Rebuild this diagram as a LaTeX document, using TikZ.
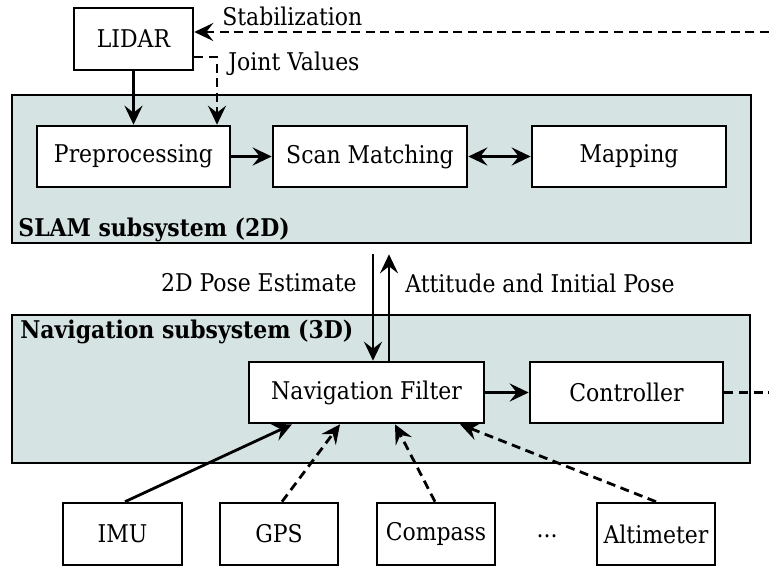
\documentclass[tikz,border=0pt]{standalone}
\usepackage{fontspec}
\setmainfont{DejaVu Serif Condensed}
\usepackage{tikz}
\usetikzlibrary{arrows.meta}
\definecolor{subsysfill}{RGB}{214,227,227}

\begin{document}
\begin{tikzpicture}[x=0.5pt,y=-0.5pt,line cap=butt,line join=miter,
    >={Stealth[length=9.5pt,width=9pt,inset=3.5pt]},
    block/.style={draw,fill=white,line width=1.3pt,inner sep=0pt,font=\fontsize{12.2}{14}\selectfont},
    subsys/.style={draw,fill=subsysfill,line width=1.3pt,inner sep=0pt},
    subsyslabel/.style={font=\fontsize{12.2}{14}\selectfont\bfseries,inner sep=0pt,anchor=base west},
    flowlabel/.style={font=\fontsize{12.2}{14}\selectfont,inner sep=0pt},
    link/.style={line width=1.4pt},
    dashlink/.style={line width=1.4pt,dash pattern=on 4.5pt off 2.8pt}]
\useasboundingbox (0,0) rectangle (769,568);
% subsystems
\node[subsys,minimum width=369.5pt,minimum height=74pt] (slam) at (381.5,169) {};
\node[subsys,minimum width=369pt,minimum height=74pt] (nav) at (381,389) {};
\node[subsyslabel] (slamlbl) at (18,236) {SLAM subsystem (2D)};
\node[subsyslabel] (navlbl) at (20,338) {Navigation subsystem (3D)};
% blocks
\node[block,minimum width=59.5pt,minimum height=31pt] (lidar) at (133.5,39) {LIDAR};
\node[block,minimum width=96.5pt,minimum height=30.5pt] (prep) at (133.5,156.5) {Preprocessing};
\node[block,minimum width=97pt,minimum height=30.5pt] (scan) at (370,156.5) {Scan Matching};
\node[block,minimum width=97pt,minimum height=30.5pt] (mapping) at (629,156.5) {Mapping};
\node[block,minimum width=117.5pt,minimum height=30.5pt] (navfilter) at (366.5,392.5) {Navigation Filter};
\node[block,minimum width=96.5pt,minimum height=30.5pt] (controller) at (626.5,392.5) {Controller};
\node[block,minimum width=59.5pt,minimum height=31pt] (imu) at (122.5,534) {IMU};
\node[block,minimum width=59pt,minimum height=31pt] (gps) at (279,534) {GPS};
\node[block,minimum width=59pt,minimum height=31pt] (compass) at (436,534) {Compass};
\node[flowlabel] (dots) at (547,536) {...};
\node[block,minimum width=59pt,minimum height=31pt] (alti) at (656,534) {Altimeter};
% outside ends
\coordinate (stabin) at (769,32);
\coordinate (jv) at (217,57);
\coordinate (ctrlout) at (769,392.5);
% connectors
\draw[->,link] (lidar) -- (prep);
\draw[->,dashlink] (lidar.east |- jv) -- (jv) -- (jv |- prep.north);
\draw[->,dashlink] (stabin) -- (stabin -| lidar.east);
\node[flowlabel,anchor=west] (stablbl) at (222,16) {Stabilization};
\node[flowlabel,anchor=west] (jvlbl) at (228,64) {Joint Values};
\draw[->,link] (prep) -- (scan);
\draw[<->,link] (scan) -- (mapping);
\draw[->,link,shorten <=5pt] ([xshift=3.25pt]navfilter.north |- slam.south) -- ([xshift=3.25pt]navfilter.north);
\draw[->,link,shorten >=5pt] ([xshift=11.25pt]navfilter.north) -- ([xshift=11.25pt]navfilter.north |- slam.south);
\node[flowlabel,anchor=east] (poselbl) at (357,283) {2D Pose Estimate};
\node[flowlabel,anchor=west] (attlbl) at (405,283) {Attitude and Initial Pose};
\draw[->,link] (navfilter) -- (controller);
\draw[dashlink] (controller.east) -- (ctrlout);
\draw[->,link] ([xshift=1.25pt]imu.north) -- ([xshift=-37.25pt]navfilter.south);
\draw[->,dashlink] ([xshift=1.5pt]gps.north) -- ([xshift=-13.25pt]navfilter.south);
\draw[->,dashlink] ([xshift=-0.5pt]compass.north) -- ([xshift=14.25pt]navfilter.south);
\draw[->,dashlink] (alti.north) -- ([xshift=46.75pt]navfilter.south);
\end{tikzpicture}
\end{document}
